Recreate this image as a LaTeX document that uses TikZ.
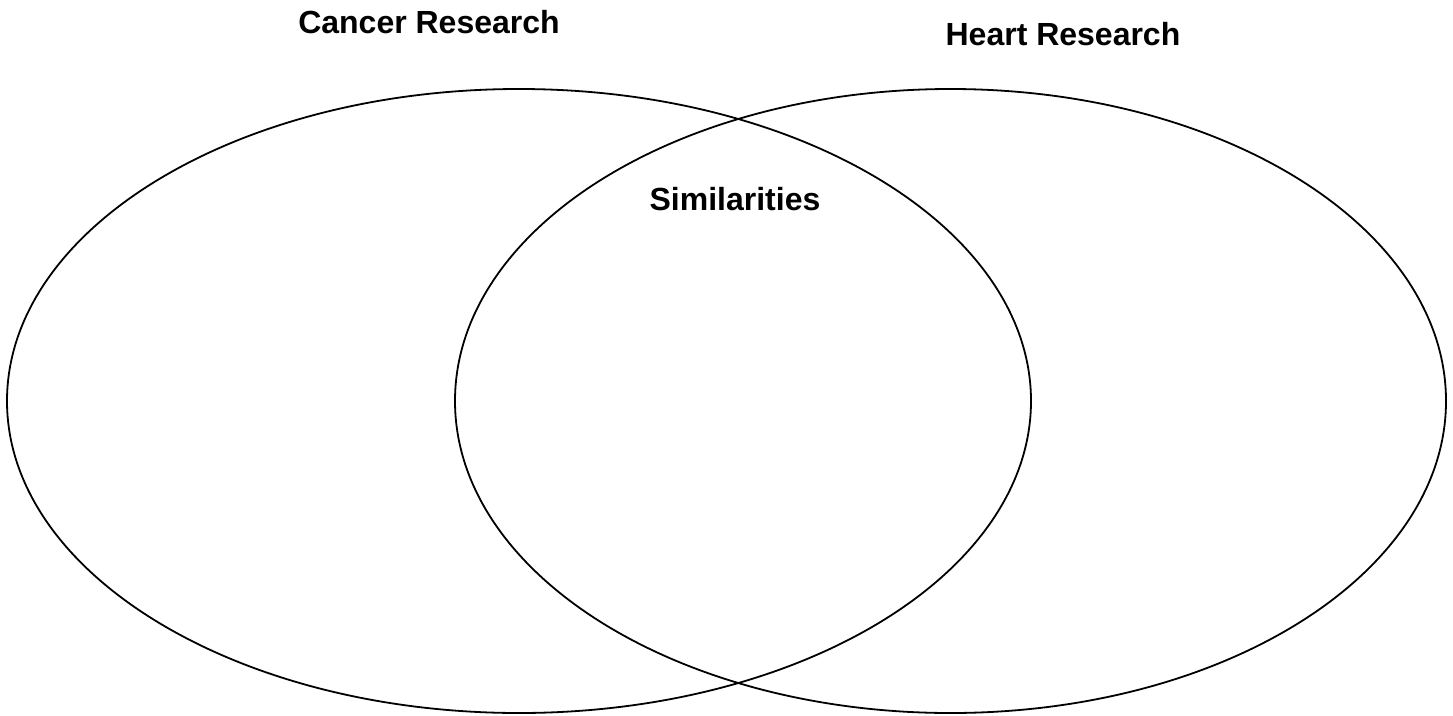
\documentclass[tikz,border=0pt]{standalone}
\usepackage{fontspec}
\setmainfont{Liberation Sans}
\usetikzlibrary{shapes.geometric}

\begin{document}
\begin{tikzpicture}[x=1pt,y=-1pt,
    every node/.style={inner sep=0pt},
    set/.style={draw,ellipse,line width=1.8pt,minimum height=624pt},
    title/.style={anchor=base,font=\bfseries\fontsize{32}{38}\selectfont}]
\useasboundingbox (0,0) rectangle (1453,715);
    % the two sets
    \node[set,minimum width=1024pt] (cancer) at (519,401) {};
    \node[set,minimum width=991pt] (heart) at (950.5,401) {};
    % the labels
    \node[title] (cancerlabel) at (429,33) {Cancer Research};
    \node[title] (heartlabel) at (1063,45) {Heart Research};
    \node[title] (similar) at (735,210.5) {Similarities};
\end{tikzpicture}
\end{document}
